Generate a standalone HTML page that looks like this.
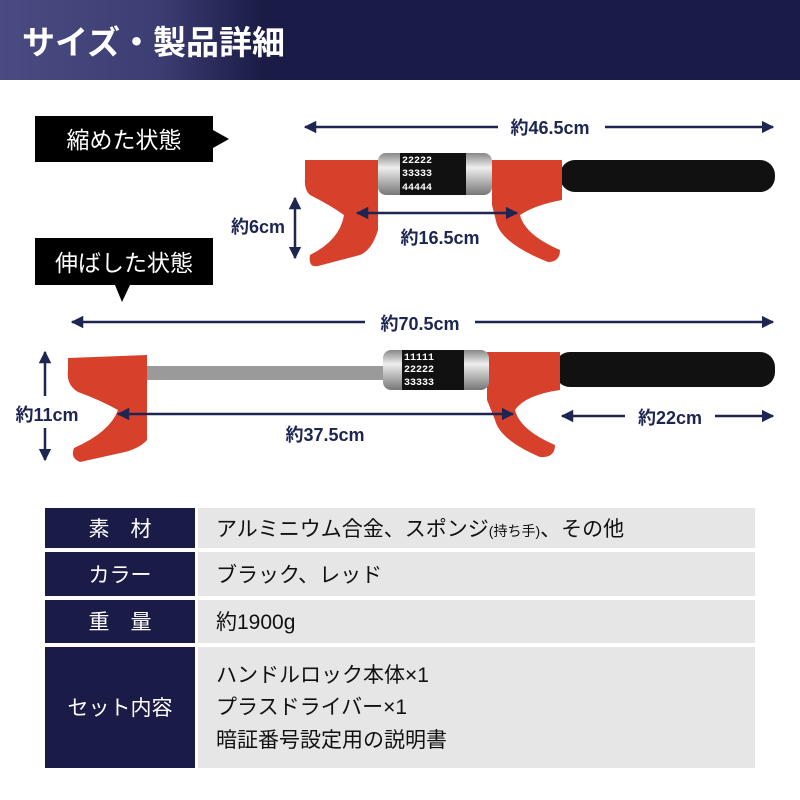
<!DOCTYPE html>
<html><head><meta charset="utf-8"><style>
body{margin:0;width:800px;height:800px;background:#fff;overflow:hidden;font-family:"Liberation Sans","Noto Sans CJK JP",sans-serif;}
svg{display:block}
</style></head><body>
<svg width="800" height="800" viewBox="0 0 800 800" xmlns="http://www.w3.org/2000/svg" font-family="'Liberation Sans','Noto Sans CJK JP',sans-serif">
<defs>
<linearGradient id="hg" x1="0" x2="1"><stop offset="0" stop-color="#4a4b82"/><stop offset="0.2" stop-color="#3c3d72"/><stop offset="0.33" stop-color="#1a1b46"/><stop offset="1" stop-color="#1a1b46"/></linearGradient>
<linearGradient id="silver" x1="0" y1="0" x2="0" y2="1"><stop offset="0" stop-color="#888"/><stop offset="0.35" stop-color="#eee"/><stop offset="1" stop-color="#777"/></linearGradient>
<marker id="ah" viewBox="0 0 10 10" refX="9" refY="5" markerWidth="5" markerHeight="5" orient="auto-start-reverse"><path d="M0,0L10,5L0,10z" fill="#1d2550"/></marker>
</defs>
<rect x="0" y="0" width="800" height="80" fill="url(#hg)"/>
<text x="22" y="54" fill="#fff" font-size="33" font-weight="bold">サイズ・製品詳細</text>

<rect x="35" y="116" width="178" height="46" fill="#000"/>
<path d="M213,130 L229,139 L213,148z" fill="#000"/>
<text x="124" y="148" fill="#fff" font-size="23" text-anchor="middle">縮めた状態</text>
<rect x="35" y="238" width="178" height="47" fill="#000"/>
<path d="M115,285 L122,302 L130,285z" fill="#000"/>
<text x="124" y="271" fill="#fff" font-size="23" text-anchor="middle">伸ばした状態</text>

<rect x="560" y="160" width="215" height="32" rx="15" fill="#111"/>
<path d="M305,160 L378,160 L378,230 Q372,250 360,255 L318,266 Q308,268 310,255 Q340,240 344,215 Q330,205 310,195 Q304,190 305,178z" fill="#d7412c"/>
<path d="M492,160 L562,160 L562,200 Q535,205 520,215 Q525,235 560,250 Q560,262 548,262 Q505,245 497,225 L492,205z" fill="#d7412c"/>
<rect x="378" y="153" width="114" height="42" rx="8" fill="url(#silver)"/>
<rect x="400" y="153" width="66" height="42" fill="#111"/>
<g fill="#fff" font-size="10" font-weight="bold" font-family="'Liberation Mono',monospace"><text x="402" y="163">22222</text><text x="402" y="176">33333</text><text x="402" y="190">44444</text></g>

<rect x="145" y="366" width="240" height="14" fill="#9a9a9a"/>
<rect x="555" y="352" width="220" height="35" rx="15" fill="#111"/>
<path d="M68,358 L147,355 L147,440 Q140,448 125,452 L80,462 Q70,458 74,448 Q110,432 118,410 Q100,400 78,392 Q66,385 68,370z" fill="#d7412c"/>
<path d="M487,352 L560,352 L560,390 Q525,395 515,410 Q520,430 555,445 Q555,458 540,457 Q500,440 495,420 L487,400z" fill="#d7412c"/>
<rect x="383" y="350" width="106" height="40" rx="8" fill="url(#silver)"/>
<rect x="402" y="350" width="62" height="40" fill="#111"/>
<g fill="#fff" font-size="10" font-weight="bold" font-family="'Liberation Mono',monospace"><text x="404" y="360">11111</text><text x="404" y="372">22222</text><text x="404" y="385">33333</text></g>

<g stroke="#1d2550" stroke-width="2.5" fill="none">
<line x1="305" y1="127" x2="498" y2="127" marker-start="url(#ah)"/>
<line x1="605" y1="127" x2="773" y2="127" marker-end="url(#ah)"/>
<line x1="295" y1="198" x2="295" y2="258" marker-start="url(#ah)" marker-end="url(#ah)"/>
<line x1="357" y1="213" x2="517" y2="213" marker-start="url(#ah)" marker-end="url(#ah)"/>
<line x1="72" y1="322" x2="365" y2="322" marker-start="url(#ah)"/>
<line x1="475" y1="322" x2="773" y2="322" marker-end="url(#ah)"/>
<line x1="45" y1="352" x2="45" y2="396" marker-start="url(#ah)"/>
<line x1="45" y1="428" x2="45" y2="460" marker-end="url(#ah)"/>
<line x1="118" y1="414" x2="513" y2="414" marker-start="url(#ah)" marker-end="url(#ah)"/>
<line x1="562" y1="416" x2="625" y2="416" marker-start="url(#ah)"/>
<line x1="715" y1="416" x2="773" y2="416" marker-end="url(#ah)"/>
</g>
<g fill="#1d2550" font-weight="bold" font-size="18" text-anchor="middle">
<text x="550" y="134">約46.5cm</text>
<text x="258" y="233">約6cm</text>
<text x="440" y="244">約16.5cm</text>
<text x="420" y="330">約70.5cm</text>
<text x="47" y="421">約11cm</text>
<text x="325" y="441">約37.5cm</text>
<text x="670" y="424">約22cm</text>
</g>

<g>
<rect x="45" y="508" width="150" height="40" fill="#1a1b46"/><rect x="198" y="508" width="557" height="40" fill="#e6e6e6"/>
<rect x="45" y="552" width="150" height="44" fill="#1a1b46"/><rect x="198" y="552" width="557" height="44" fill="#e6e6e6"/>
<rect x="45" y="600" width="150" height="43" fill="#1a1b46"/><rect x="198" y="600" width="557" height="43" fill="#e6e6e6"/>
<rect x="45" y="647" width="150" height="121" fill="#1a1b46"/><rect x="198" y="647" width="557" height="121" fill="#e6e6e6"/>
</g>
<g fill="#fff" font-size="21" text-anchor="middle">
<text x="120" y="536">素　材</text>
<text x="120" y="582">カラー</text>
<text x="120" y="629">重　量</text>
<text x="120" y="715">セット内容</text>
</g>
<g fill="#111" font-size="21">
<text x="216" y="536">アルミニウム合金、スポンジ<tspan font-size="14">(持ち手)</tspan>、その他</text>
<text x="216" y="582">ブラック、レッド</text>
<text x="216" y="629">約1900g</text>
<text x="216" y="682">ハンドルロック本体×1</text>
<text x="216" y="714">プラスドライバー×1</text>
<text x="216" y="747">暗証番号設定用の説明書</text>
</g>
</svg>
</body></html>
